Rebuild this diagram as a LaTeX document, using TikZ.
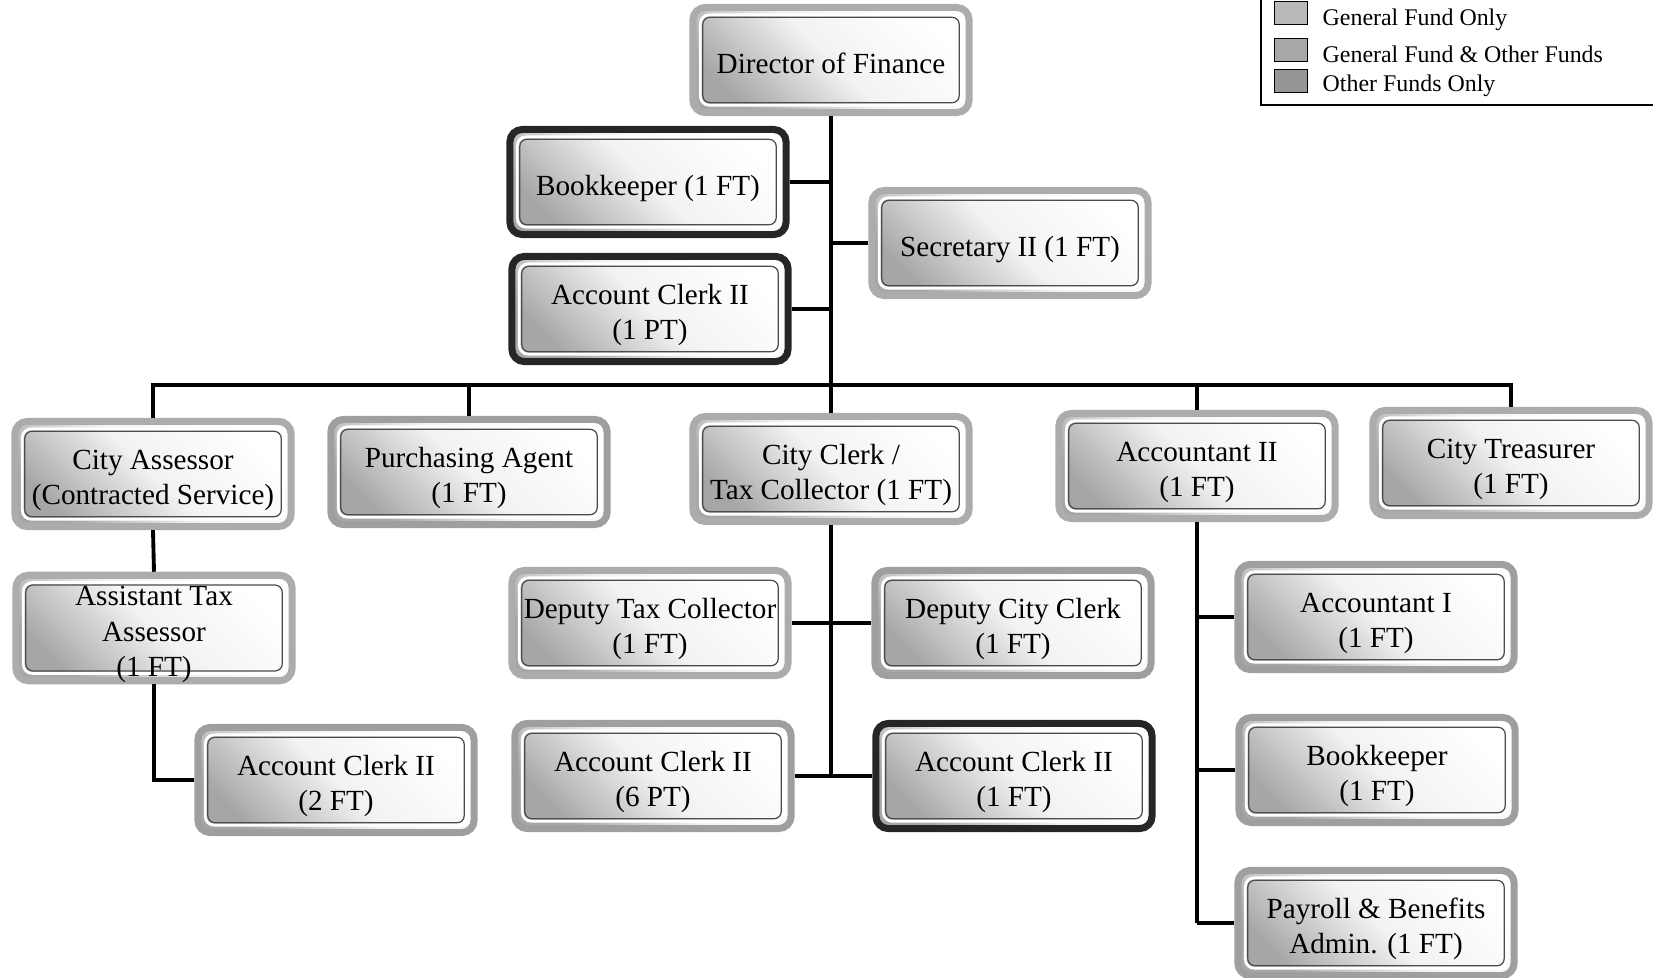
\documentclass[tikz,border=0pt]{standalone}
\usepackage{fontspec}
\setmainfont{Liberation Serif}

\newcommand{\posttext}[1]{\raisebox{-1.7pt}[\height][\depth]{\begin{tabular}{@{}c@{}}#1\end{tabular}}}

\begin{document}
\begin{tikzpicture}[x=0.01cm, y=-0.01cm,
    post/.style={rectangle, rounded corners=3.5pt, line width=2pt,
        minimum width=2.76cm, minimum height=1.05cm, inner sep=0pt,
        font=\fontsize{8.3}{10}\selectfont,
        top color=white, bottom color=gray!70, middle color=gray!10, shading angle=-45,
        path picture={
            \draw[white, line width=0.8pt, rounded corners=2.5pt]
                ([shift={(2.1pt,-2.1pt)}]path picture bounding box.north west) rectangle
                ([shift={(-2.1pt,2.1pt)}]path picture bounding box.south east);
            \draw[black!70, line width=0.35pt, rounded corners=2pt]
                ([shift={(2.8pt,-2.8pt)}]path picture bounding box.north west) rectangle
                ([shift={(-2.8pt,2.8pt)}]path picture bounding box.south east);
        }},
    genfund/.style={post, draw=gray!65},
    mixfund/.style={post, draw=gray!75},
    othfund/.style={post, draw=black!85},
    wire/.style={line width=1.1pt},
    legsq/.style={rectangle, draw=black, line width=0.4pt, minimum width=0.33cm, minimum height=0.23cm, inner sep=0pt},
    legtxt/.style={anchor=west, inner sep=0pt, font=\fontsize{6.8}{8}\selectfont}]

    \useasboundingbox (0,0) rectangle (1653,978);

    % legend
    \draw[line width=0.7pt] (1261,-10) |- (1670,105);
    \node[legsq, fill=gray!55] (lg1) at (1291,13) {};
    \node[legsq, fill=gray!68] (lg2) at (1291,50) {};
    \node[legsq, fill=gray!82] (lg3) at (1291,81) {};
    \node[legtxt] (lt1) at (1322,20) {General Fund Only};
    \node[legtxt] (lt2) at (1322,54) {General Fund \& Other Funds};
    \node[legtxt] (lt3) at (1322,86) {Other Funds Only};

    % top
    \node[genfund] (dir) at (831,60) {\posttext{Director of Finance}};
    \node[othfund] (bk1) at (648,182) {\posttext{Bookkeeper (1 FT)}};
    \node[genfund] (sec) at (1010,243) {\posttext{Secretary II (1 FT)}};
    \node[othfund] (ac1) at (650,309) {\posttext{Account Clerk II\\(1 PT)}};

    % second row
    \node[genfund] (asr) at (153,474) {\posttext{City Assessor\\(Contracted Service)}};
    \node[mixfund] (pur) at (469,472) {\posttext{Purchasing Agent\\(1 FT)}};
    \node[genfund] (clk) at (831,469) {\posttext{City Clerk /\\Tax Collector (1 FT)}};
    \node[genfund] (acc2) at (1197,466) {\posttext{Accountant II\\(1 FT)}};
    \node[genfund] (treas) at (1511,463) {\posttext{City Treasurer\\(1 FT)}};

    % lower rows
    \node[genfund] (ata) at (154,628) {\posttext{Assistant Tax\\Assessor\\(1 FT)}};
    \node[mixfund] (acf) at (336,780) {\posttext{Account Clerk II\\(2 FT)}};
    \node[genfund] (dtc) at (650,623) {\posttext{Deputy Tax Collector\\(1 FT)}};
    \node[mixfund] (dcc) at (1013,623) {\posttext{Deputy City Clerk\\(1 FT)}};
    \node[mixfund] (ac6) at (653,776) {\posttext{Account Clerk II\\(6 PT)}};
    \node[othfund] (ac1f) at (1014,776) {\posttext{Account Clerk II\\(1 FT)}};
    \node[mixfund] (acc1) at (1376,617) {\posttext{Accountant I\\(1 FT)}};
    \node[mixfund] (bk2) at (1377,770) {\posttext{Bookkeeper\\(1 FT)}};
    \node[mixfund] (pay) at (1376,923) {\posttext{Payroll \& Benefits\\Admin. (1 FT)}};

    \coordinate (bus) at (831,385);

    \draw[wire] (dir.south) -- (clk.north);
    \draw[wire] (bk1.east) -- (bk1.east -| dir.south);
    \draw[wire] (sec.west) -- (sec.west -| dir.south);
    \draw[wire] (ac1.east) -- (ac1.east -| dir.south);
    \draw[wire] (asr.north) |- (bus) -| (treas.north);
    \draw[wire] (pur.north) -- (pur.north |- bus);
    \draw[wire] (acc2.north) -- (acc2.north |- bus);

    \draw[wire] (asr.south) -- (ata.north);
    \draw[wire] (ata.south) |- (acf.west);

    \draw[wire] (clk.south) -- (clk.south |- ac6.east);
    \draw[wire] (dtc.east) -- (dcc.west);
    \draw[wire] (ac6.east) -- (ac1f.west);

    \draw[wire] (acc2.south) -- (acc2.south |- pay.west);
    \draw[wire] (acc1.west) -- (acc1.west -| acc2.south);
    \draw[wire] (bk2.west) -- (bk2.west -| acc2.south);
    \draw[wire] (pay.west) -- (pay.west -| acc2.south);
\end{tikzpicture}
\end{document}
